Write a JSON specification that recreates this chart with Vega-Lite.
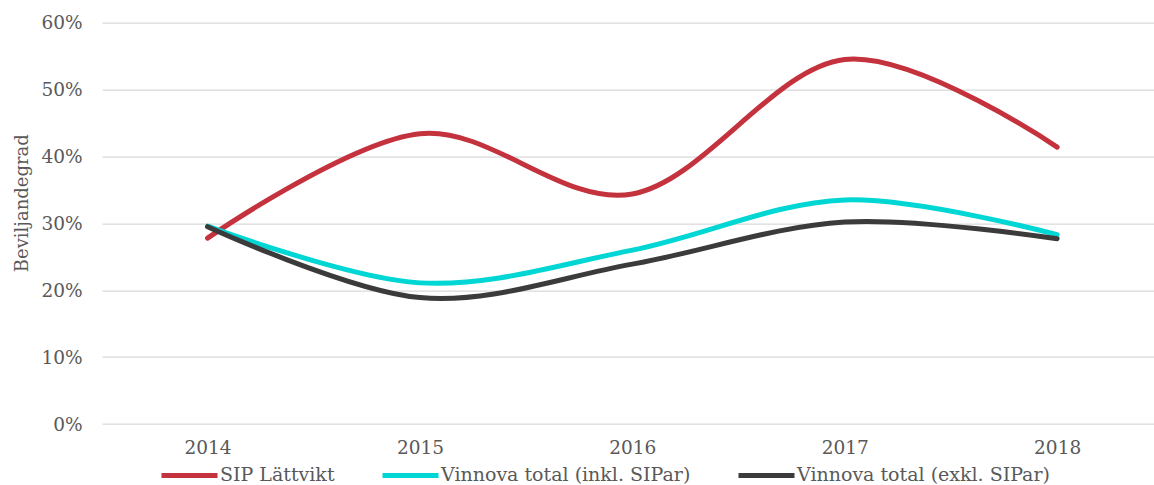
{
  "$schema": "https://vega.github.io/schema/vega-lite/v6.json",
  "autosize": "none",
  "width": 1052,
  "height": 401.3,
  "padding": {"left": 102, "top": 22.7, "right": 0, "bottom": 61},
  "background": "white",
  "config": {
    "view": {"stroke": null},
    "font": "DejaVu Serif",
    "axis": {"labelFont": "DejaVu Serif", "titleFont": "DejaVu Serif", "labelColor": "#595959", "titleColor": "#595959", "labelFontSize": 18.5, "titleFontSize": 18, "titleFontWeight": "normal"},
    "legend": {"labelFont": "DejaVu Serif", "labelColor": "#595959", "labelFontSize": 19, "labelLimit": 0}
  },
  "data": {
    "values": [
      {"year": 2014, "series": "SIP Lättvikt", "value": 0.278},
      {"year": 2015, "series": "SIP Lättvikt", "value": 0.434},
      {"year": 2016, "series": "SIP Lättvikt", "value": 0.344},
      {"year": 2017, "series": "SIP Lättvikt", "value": 0.545},
      {"year": 2018, "series": "SIP Lättvikt", "value": 0.414},
      {"year": 2014, "series": "Vinnova total (inkl. SIPar)", "value": 0.296},
      {"year": 2015, "series": "Vinnova total (inkl. SIPar)", "value": 0.211},
      {"year": 2016, "series": "Vinnova total (inkl. SIPar)", "value": 0.26},
      {"year": 2017, "series": "Vinnova total (inkl. SIPar)", "value": 0.335},
      {"year": 2018, "series": "Vinnova total (inkl. SIPar)", "value": 0.283},
      {"year": 2014, "series": "Vinnova total (exkl. SIPar)", "value": 0.295},
      {"year": 2015, "series": "Vinnova total (exkl. SIPar)", "value": 0.189},
      {"year": 2016, "series": "Vinnova total (exkl. SIPar)", "value": 0.239},
      {"year": 2017, "series": "Vinnova total (exkl. SIPar)", "value": 0.302},
      {"year": 2018, "series": "Vinnova total (exkl. SIPar)", "value": 0.277}
    ]
  },
  "mark": {"type": "line", "interpolate": "cardinal", "strokeWidth": 5, "strokeCap": "round", "strokeJoin": "round"},
  "encoding": {
    "x": {
      "field": "year", "type": "quantitative",
      "scale": {"domain": [2013.503, 2018.456], "nice": false, "zero": false},
      "axis": {"values": [2014, 2015, 2016, 2017, 2018], "format": "d", "title": null, "grid": false, "domain": false, "ticks": false, "labelPadding": 14, "labelFlush": false}
    },
    "y": {
      "field": "value", "type": "quantitative",
      "scale": {"domain": [0, 0.6], "nice": false},
      "axis": {"values": [0, 0.1, 0.2, 0.3, 0.4, 0.5, 0.6], "format": ".0%", "title": "Beviljandegrad", "grid": true, "gridColor": "#D9D9D9", "gridWidth": 1.3, "domain": false, "ticks": false, "labelPadding": 20, "titleX": -75, "titleY": 180, "titleAngle": 270, "titleBaseline": "alphabetic", "titleAlign": "center"}
    },
    "color": {
      "field": "series", "type": "nominal",
      "scale": {"domain": ["SIP Lättvikt", "Vinnova total (inkl. SIPar)", "Vinnova total (exkl. SIPar)"], "range": ["#C3323D", "#00D6D4", "#3B3B3B"]},
      "legend": {"title": null, "orient": "none", "legendX": 57, "legendY": 422, "direction": "horizontal", "symbolType": "stroke", "symbolSize": 3136, "symbolStrokeWidth": 5, "labelOffset": 0, "columnPadding": 37, "padding": 0, "labelLimit": 0}
    }
  }
}
